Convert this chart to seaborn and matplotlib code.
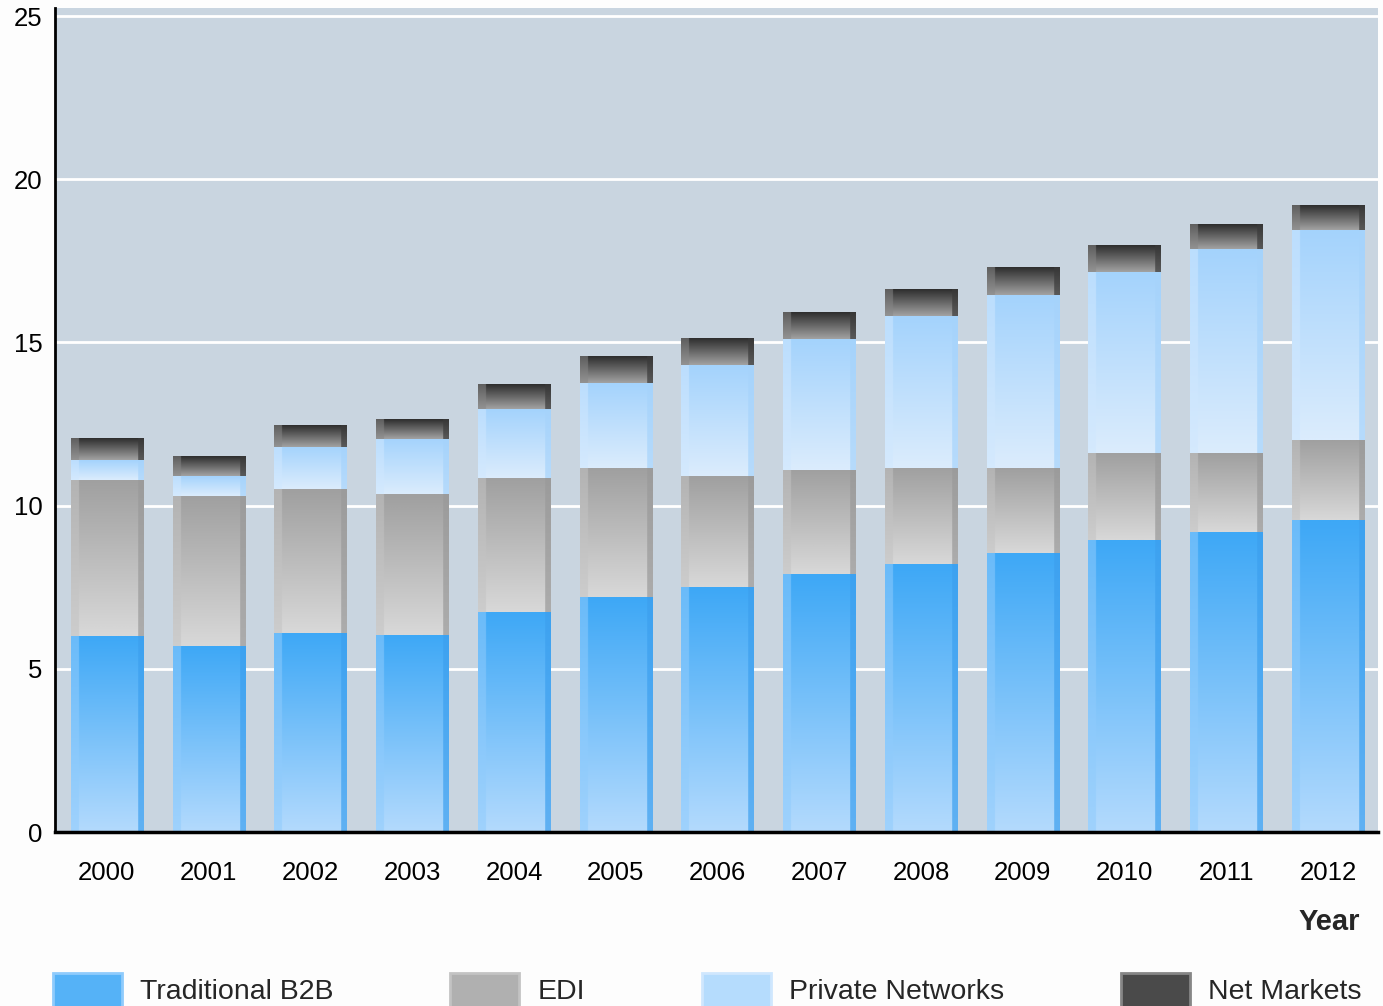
import numpy as np
import pandas as pd
import matplotlib
matplotlib.use("Agg")
import matplotlib.pyplot as plt
import seaborn as sns
from matplotlib.colors import to_rgb
from matplotlib.patches import Patch

# ---------------- data ----------------
years = [str(y) for y in range(2000, 2013)]
traditional_b2b = [6.0, 5.7, 6.1, 6.05, 6.75, 7.2, 7.5, 7.9, 8.2, 8.55, 8.95, 9.2, 9.55]
edi = [4.8, 4.6, 4.4, 4.3, 4.1, 3.95, 3.4, 3.2, 2.95, 2.6, 2.65, 2.4, 2.45]
private_networks = [0.6, 0.6, 1.3, 1.7, 2.1, 2.6, 3.4, 4.0, 4.65, 5.3, 5.55, 6.25, 6.45]
net_markets = [0.65, 0.6, 0.65, 0.6, 0.75, 0.8, 0.8, 0.8, 0.8, 0.85, 0.8, 0.75, 0.75]
series_names = ["Traditional B2B", "EDI", "Private Networks", "Net Markets"]
y_ticks = [0, 5, 10, 15, 20, 25]

# style per series: (top, bottom, left strip, right strip, legend colour)
styles = {
    "Traditional B2B": ("#3ea8f6", "#b3dafd", "#8fcbfc", "#3c9fee", "#55b2f7"),
    "EDI": ("#a0a0a0", "#d8d8d8", "#c3c3c3", "#999999", "#b0b0b0"),
    "Private Networks": ("#a4d3fc", "#dbecfd", "#cfe7fe", "#a6d3fb", "#b5dcfd"),
    "Net Markets": ("#2e2e2e", "#a2a2a2", "#868686", "#3a3a3a", "#4a4a4a"),
}

sns.set_theme(style="white")
plt.rcParams['font.family'] = ['Liberation Sans', 'DejaVu Sans']

W, H = 1383, 1006
fig = plt.figure(figsize=(W / 100, H / 100), dpi=100, facecolor='#fdfdfd')
ax = fig.add_axes([55 / W, 1 - 832 / H, (1378 - 55) / W, (832 - 8) / H])
ax.set_facecolor('#c9d5e0')

df = pd.DataFrame({
    "Year": years,
    "Traditional B2B": traditional_b2b,
    "EDI": edi,
    "Private Networks": private_networks,
    "Net Markets": net_markets,
})

bottoms = np.zeros(len(years))
groups = []
for name in series_names:
    n0 = len(ax.patches)
    sns.barplot(data=df, x="Year", y=name, bottom=bottoms.copy(), width=0.71,
                color=styles[name][4], saturation=1, errorbar=None,
                linewidth=0, ax=ax, zorder=2)
    groups.append((name, ax.patches[n0:]))
    bottoms = bottoms + df[name].to_numpy()


def grad_image(top, bot, left, right, n=64, cols=100):
    t = np.linspace(0, 1, n)[:, None]
    top, bot, left, right = map(lambda c: np.array(to_rgb(c)), (top, bot, left, right))
    main = bot * (1 - t) + top * t
    img = np.repeat(main[:, None, :], cols, axis=1)
    lcol = 0.55 * left + 0.45 * main
    rcol = 0.7 * right + 0.3 * main
    img[:, :11] = lcol[:, None, :]
    img[:, -8:] = rcol[:, None, :]
    return img


for name, patches in groups:
    top, bot, left, right, _ = styles[name]
    img = grad_image(top, bot, left, right)
    for p in patches:
        x0, y0 = p.get_x(), p.get_y()
        w, h = p.get_width(), p.get_height()
        ax.imshow(img, extent=(x0, x0 + w, y0, y0 + h), origin='lower',
                  aspect='auto', interpolation='bilinear', zorder=2.5)

ax.set_xlim(-0.51, 12.49)
ax.set_ylim(0, 25.25)
ax.set_yticks(y_ticks)
ax.yaxis.grid(True, color='white', linewidth=2)
ax.xaxis.grid(False)
ax.set_axisbelow(True)

for s in ['top', 'right']:
    ax.spines[s].set_visible(False)
ax.spines['left'].set_color('black')
ax.spines['left'].set_linewidth(2)
ax.spines['bottom'].set_color('black')
ax.spines['bottom'].set_linewidth(2.5)
ax.spines['bottom'].set_zorder(5)

ax.tick_params(axis='both', length=0, labelsize=18.5, colors='black')
ax.tick_params(axis='x', pad=21)
ax.tick_params(axis='y', pad=9)

ax.set_ylabel("")
ax.set_xlabel("Year", fontsize=21, fontweight='bold', ha='right')
ax.xaxis.set_label_coords((1360 - 55) / (1378 - 55), (832 - 908) / (832 - 8))

handles = [Patch(facecolor=styles[n][4], edgecolor=styles[n][2], linewidth=2) for n in series_names]
fig.legend(handles, series_names, ncol=4, loc='upper left',
           bbox_to_anchor=(53 / W, 1 - 973 / H), frameon=False, fontsize=20.5,
           handlelength=2.42, handleheight=1.45, handletextpad=0.64,
           columnspacing=4.1, borderpad=0, borderaxespad=0)

fig.savefig("out.png", dpi=100, facecolor=fig.get_facecolor())
